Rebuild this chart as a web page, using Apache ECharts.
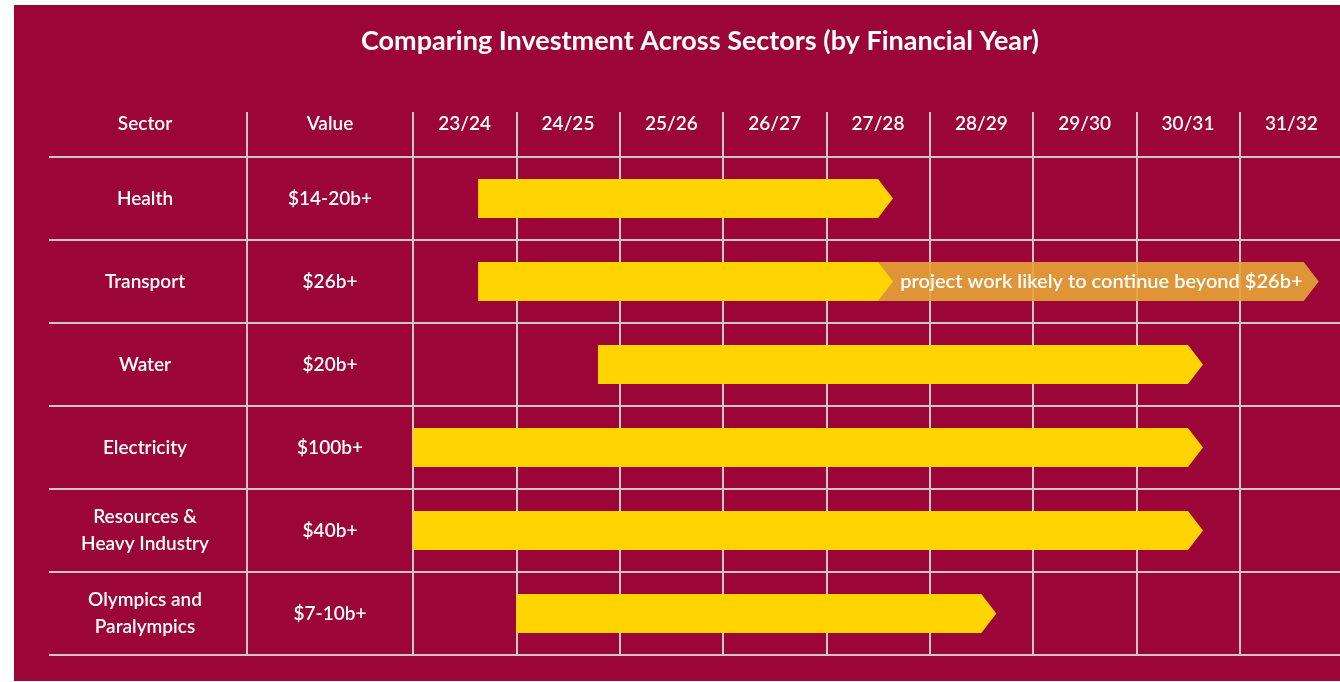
<!DOCTYPE html>
<html><head><meta charset="utf-8">
<script src="https://cdn.jsdelivr.net/npm/echarts@6/dist/echarts.min.js"></script>
<style>html,body{margin:0;padding:0;background:#fff}#c{width:1340px;height:682px}</style>
</head><body><div id="c"></div>
<script>
const titleText = 'Comparing Investment Across Sectors (by Financial Year)';
const sectorHeader = ['Sector'];
const valueHeader = ['Value'];
const years = ['23/24','24/25','25/26','26/27','27/28','28/29','29/30','30/31','31/32'];
const sectors = ['Health','Transport','Water','Electricity','Resources &\nHeavy Industry','Olympics and\nParalympics'];
const values = ['$14-20b+','$26b+','$20b+','$100b+','$40b+','$7-10b+'];
// bar start / end, in financial years counted from the start of 23/24
const barStart = [0.63, 0.63, 1.79, 0, 0, 1.0];
const barEnd = [4.5, 4.5, 7.5, 7.5, 7.5, 5.5];
// continuation bar (Transport)
const extRow = [1];
const extStart = [4.5];
const extEnd = [8.62];
const extText = ['project work likely to continue beyond $26b+'];

const BG = '#9B0538', LINE = '#CBC6C8', YEL = '#FFD400', ORG = 'rgba(229,164,55,0.9)', FONT = 'Lato';
const TOP = 157, H = 498, TIP = 15;
const gridLine = {show: true, lineStyle: {color: LINE, width: 2}};
const txt = {color: '#fff', fontFamily: FONT, fontSize: 19, fontWeight: 600};
const hdrTick = {show: true, length: 45, inside: false, lineStyle: {color: LINE, width: 2}};

function arrow(fill, labels) {
  return function (params, api) {
    const row = api.value(0);
    const p0 = api.coord([api.value(1), row]);
    const p1 = api.coord([api.value(2), row]);
    const h = api.size([0, 1])[1] * 0.47;
    const yc = p0[1];
    const children = [{
      type: 'polygon',
      shape: {points: [[p0[0], yc - h / 2], [p1[0], yc - h / 2], [p1[0] + TIP, yc], [p1[0], yc + h / 2], [p0[0], yc + h / 2]]},
      style: {fill: fill}
    }];
    if (labels) {
      children.push({
        type: 'text',
        style: {text: labels[params.dataIndex], x: (p0[0] + TIP + p1[0]) / 2 + 3, y: yc, align: 'center', verticalAlign: 'middle',
          fill: '#fff', fontFamily: FONT, fontSize: 20, fontWeight: 600}
      });
    }
    return {type: 'group', children: children};
  };
}

const chart = echarts.init(document.getElementById('c'));
chart.setOption({
  backgroundColor: '#fff',
  animation: false,
  title: {text: titleText, left: 695, top: 23, textAlign: 'center',
    textStyle: {color: '#fff', fontFamily: FONT, fontWeight: 'bold', fontSize: 27}},
  graphic: [{type: 'rect', shape: {x: 14, y: 5, width: 1326, height: 676}, style: {fill: BG}, z: -10, silent: true}],
  grid: [
    {left: 49, top: TOP, width: 198, height: H, outerBoundsMode: 'none'},
    {left: 247, top: TOP, width: 166, height: H, outerBoundsMode: 'none'},
    {left: 413, top: TOP, width: 930, height: H, outerBoundsMode: 'none'}
  ],
  xAxis: [
    {gridIndex: 0, type: 'category', data: sectorHeader, position: 'top', axisLine: {show: false}, axisTick: {show: false},
      splitLine: {show: false}, axisLabel: Object.assign({}, txt, {margin: 33, verticalAlign: 'middle', padding: [0, 6, 0, 0]})},
    {gridIndex: 1, type: 'category', data: valueHeader, position: 'top', axisLine: {show: false}, axisTick: hdrTick,
      splitLine: gridLine, axisLabel: Object.assign({}, txt, {margin: 33, verticalAlign: 'middle'})},
    {gridIndex: 2, type: 'category', data: years, position: 'top', axisLine: {show: false}, axisTick: hdrTick,
      splitLine: gridLine, axisLabel: Object.assign({}, txt, {margin: 33, verticalAlign: 'middle', interval: 0})},
    {gridIndex: 2, type: 'value', min: 0, max: 9, show: false}
  ],
  yAxis: [
    {gridIndex: 0, type: 'category', data: sectors, inverse: true, axisLine: {show: false}, axisTick: {show: false},
      axisLabel: {show: false}, splitLine: gridLine},
    {gridIndex: 1, type: 'category', data: sectors, inverse: true, axisLine: {show: false}, axisTick: {show: false},
      axisLabel: Object.assign({}, txt, {margin: 102, align: 'center', lineHeight: 27, interval: 0}), splitLine: gridLine},
    {gridIndex: 2, type: 'category', data: sectors, inverse: true, axisLine: {show: false}, axisTick: {show: false},
      axisLabel: Object.assign({}, txt, {margin: 83, align: 'center', interval: 0, formatter: function (v, i) { return values[i]; }}),
      splitLine: gridLine}
  ],
  series: [
    {type: 'custom', name: 'continuation', xAxisIndex: 3, yAxisIndex: 2, encode: {x: [1, 2], y: 0},
      data: extRow.map(function (r, i) { return [r, extStart[i], extEnd[i]]; }),
      renderItem: arrow(ORG, extText), z: 3},
    {type: 'custom', name: 'investment', xAxisIndex: 3, yAxisIndex: 2, encode: {x: [1, 2], y: 0},
      data: sectors.map(function (s, i) { return [i, barStart[i], barEnd[i]]; }),
      renderItem: arrow(YEL, null), z: 4}
  ]
});
</script></body></html>
